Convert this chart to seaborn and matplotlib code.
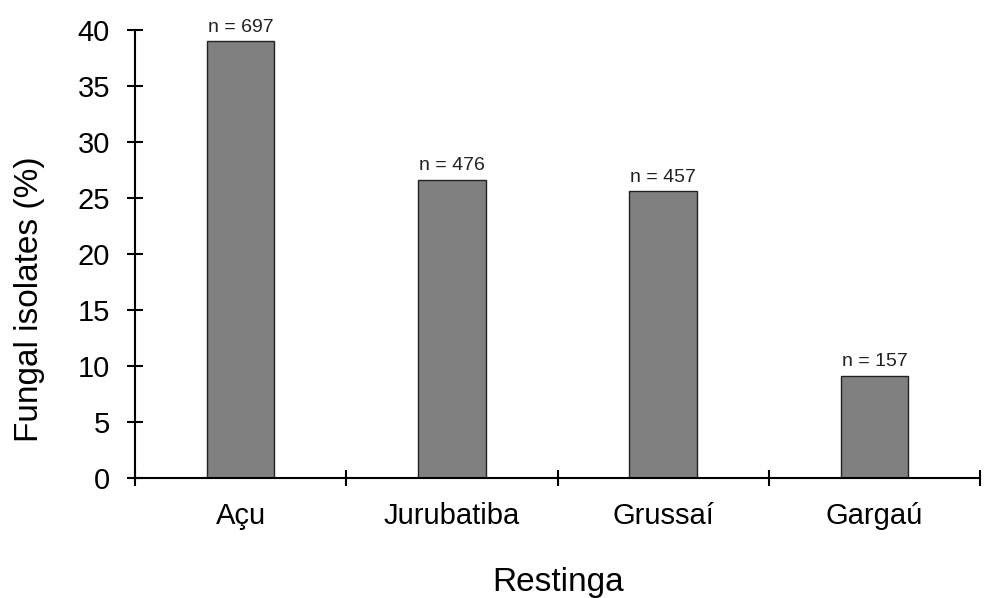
import matplotlib
matplotlib.use("Agg")
import matplotlib.pyplot as plt
from matplotlib.ticker import FixedLocator
import seaborn as sns
import pandas as pd

sites = ["Açu", "Jurubatiba", "Grussaí", "Gargaú"]
percent = [39.0, 26.6, 25.6, 9.1]
n_isolates = [697, 476, 457, 157]

df = pd.DataFrame({"site": sites, "percent": percent, "n": n_isolates})

sns.set_style("white")
plt.rcParams["font.family"] = ["Liberation Sans", "DejaVu Sans"]
plt.rcParams["text.color"] = "black"
plt.rcParams["axes.labelcolor"] = "black"
plt.rcParams["xtick.color"] = "black"
plt.rcParams["ytick.color"] = "black"

fig = plt.figure(figsize=(9.93, 5.98), dpi=100)
ax = fig.add_axes([0.136, 0.2007, 0.851, 0.7493])

sns.barplot(data=df, x="site", y="percent", color="#808080", edgecolor="#222222",
            linewidth=1.0, width=0.32, saturation=1, ax=ax)

# n labels above bars
for i, row in df.iterrows():
    ax.text(i, row["percent"] + 0.5, f"n = {row['n']}", ha="center", va="bottom",
            fontsize=14, color="#222222")

ax.set_xlim(-0.5, len(sites) - 0.5)
ax.set_ylim(0, 40)
ax.set_yticks(range(0, 41, 5))

# excel-style ticks between categories
ax.tick_params(axis="x", which="major", bottom=False, length=0, labelsize=21, pad=17)
ax.xaxis.set_minor_locator(FixedLocator([i - 0.5 for i in range(len(sites) + 1)]))
ax.tick_params(axis="x", which="minor", bottom=True, direction="inout", length=12, width=1.5)
ax.tick_params(axis="y", left=True, direction="inout", length=12, width=1.5, labelsize=21, pad=12)

for s in ["top", "right"]:
    ax.spines[s].set_visible(False)
for s in ["left", "bottom"]:
    ax.spines[s].set_color("black")
    ax.spines[s].set_linewidth(1.5)

ax.set_xlabel("Restinga", fontsize=24, labelpad=27)
ax.set_ylabel("Fungal isolates (%)", fontsize=24)
ax.yaxis.set_label_coords(-0.107, 0.40)

fig.savefig("out.png", dpi=100)
